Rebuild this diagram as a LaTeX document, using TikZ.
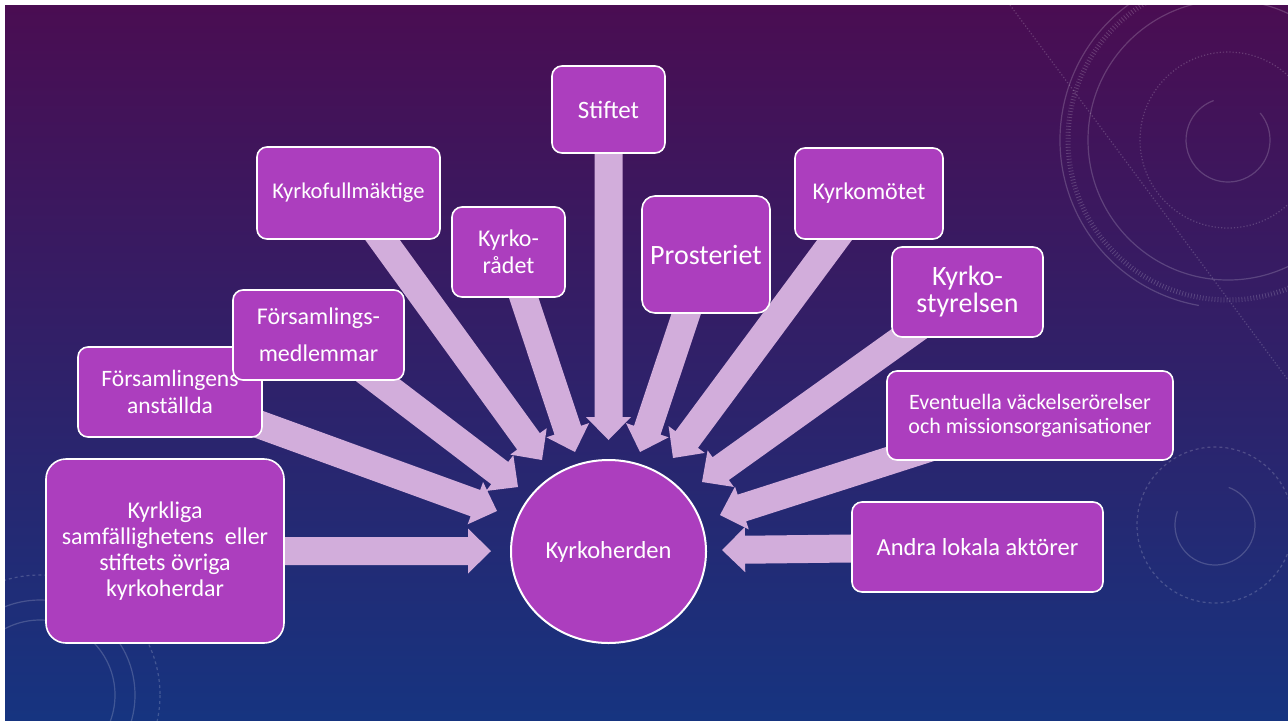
\documentclass[tikz,border=0pt]{standalone}
\usepackage{fontspec}
\setmainfont{Carlito}
\usetikzlibrary{calc,shapes.geometric}
\definecolor{boxcol}{RGB}{172,62,190}
\definecolor{arrcol}{RGB}{210,173,219}
\definecolor{bgtop}{RGB}{74,13,82}
\definecolor{bgmid}{RGB}{44,28,108}
\definecolor{bgbot}{RGB}{22,52,128}
\pgfdeclarelayer{back}
\pgfdeclarelayer{arrows}
\pgfsetlayers{back,arrows,main}
\newcommand\blockarrow[2]{%
  \path ($(#2)!23pt!(#1)$) coordinate (hb);
  \fill[arrcol] ($(#1)!14pt!90:(#2)$) -- ($(hb)!14pt!90:(#2)$) -- ($(hb)!22.5pt!90:(#2)$) -- (#2)
    -- ($(hb)!22.5pt!-90:(#2)$) -- ($(hb)!14pt!-90:(#2)$) -- ($(#1)!14pt!-90:(#2)$) -- cycle;}
\tikzset{
  box/.style={draw=white, line width=1.6pt, fill=boxcol, rounded corners=10pt, text=white,
    align=center, inner sep=0pt},
  fs/.style 2 args={font=\fontsize{#1}{#2}\selectfont},
  deco/.style={draw=white, opacity=0.18, line width=1.2pt}
}
\begin{document}
\begin{tikzpicture}[x=1pt,y=-1pt]
\useasboundingbox (0,0) rectangle (1288,724);
\begin{pgfonlayer}{back}
  \fill[white] (0,0) rectangle (1288,724);
  \shade[top color=bgtop, middle color=bgmid, bottom color=bgbot] (5,5) rectangle (1288,720);
  \begin{scope}
    \clip (5,5) rectangle (1288,720);
    % top-right dial
    \draw[deco] (1228,140) ++(-40:42) arc[start angle=-40, end angle=250, radius=42];
    \draw[deco, dotted] (1228,140) circle[radius=88];
    \draw[deco] (1228,140) circle[radius=140];
    \draw[deco, line width=5pt, dash pattern=on 0.8pt off 2.2pt] (1228,140) circle[radius=160];
    \draw[deco] (1228,140) ++(100:168) arc[start angle=100, end angle=280, radius=168];
    \draw[deco, dotted] (1010,5) -- (1288,380);
    % top small arc
    \draw[deco] (440,12) ++(200:32) arc[start angle=200, end angle=340, radius=32];
    % right-bottom rings
    \draw[deco] (1215,525) ++(-70:40) arc[start angle=-70, end angle=200, radius=40];
    \draw[deco, dashed] (1215,525) circle[radius=78];
    % bottom-left rings
    \draw[deco] (40,695) circle[radius=75];
    \draw[deco] (40,695) circle[radius=95];
    \draw[deco, dashed] (40,695) circle[radius=120];
  \end{scope}
\end{pgfonlayer}

% nodes
\node[draw=white, line width=2pt, fill=boxcol, ellipse, minimum width=195pt, minimum height=183pt,
  inner sep=0pt, text=white, fs={24.5}{28}] (kh) at (608.5,551.5) {Kyrkoherden};

\node[box, rounded corners=20pt, minimum width=238pt, minimum height=184pt, fs={24}{26}] (kl) at (165,551)
  {Kyrkliga\\samfällighetens\hspace{0.45em}eller\\stiftets övriga\\kyrkoherdar};
\node[box, minimum width=184pt, minimum height=90pt, fs={23.5}{27}] (fa) at (170,392)
  {Församlingens\\anställda};
\node[box, minimum width=171pt, minimum height=90pt, fs={24}{37}] (fm) at (318.5,335)
  {Församlings-\\medlemmar};
\node[box, minimum width=183pt, minimum height=92pt, fs={22.5}{24}] (kf) at (348.5,193)
  {Kyrkofullmäktige};
\node[box, minimum width=113pt, minimum height=90pt, fs={24}{27}] (kr) at (508.5,252)
  {Kyrko-\\rådet};
\node[box, minimum width=113pt, minimum height=87pt, fs={25}{28}] (st) at (608.5,109.5)
  {Stiftet};
\node[box, rounded corners=13pt, minimum width=128pt, minimum height=117pt, fs={28}{30}] (pr) at (706,254.5)
  {Prosteriet};
\node[box, minimum width=148pt, minimum height=91pt, fs={24}{28}] (km) at (869,193.5)
  {Kyrkomötet};
\node[box, minimum width=151pt, minimum height=90pt, fs={28}{27}] (ks) at (967.5,292)
  {Kyrko-\\styrelsen};
\node[box, minimum width=286pt, minimum height=89pt, fs={22}{24}] (ev) at (1030,415.5)
  {Eventuella väckelserörelser\\och missionsorganisationer};
\node[box, minimum width=251pt, minimum height=90pt, fs={24.5}{28}] (an) at (977.5,547)
  {Andra lokala aktörer};

% arrow tips
\coordinate (tkl) at (491,551);
\coordinate (tfa) at (497,511);
\coordinate (tfm) at (518,487);
\coordinate (tkf) at (542,460);
\coordinate (tkr) at (575,452);
\coordinate (tst) at (608.5,440);
\coordinate (tpr) at (640,452);
\coordinate (tkm) at (673,458);
\coordinate (tks) at (702,482);
\coordinate (tev) at (720,515);
\coordinate (tan) at (722,550);

\begin{pgfonlayer}{arrows}
  \blockarrow{kl.center}{tkl}
  \blockarrow{fa.center}{tfa}
  \blockarrow{fm.center}{tfm}
  \blockarrow{kf.center}{tkf}
  \blockarrow{kr.center}{tkr}
  \blockarrow{st.center}{tst}
  \blockarrow{pr.center}{tpr}
  \blockarrow{km.center}{tkm}
  \blockarrow{ks.center}{tks}
  \blockarrow{ev.center}{tev}
  \blockarrow{an.center}{tan}
\end{pgfonlayer}
\end{tikzpicture}
\end{document}
